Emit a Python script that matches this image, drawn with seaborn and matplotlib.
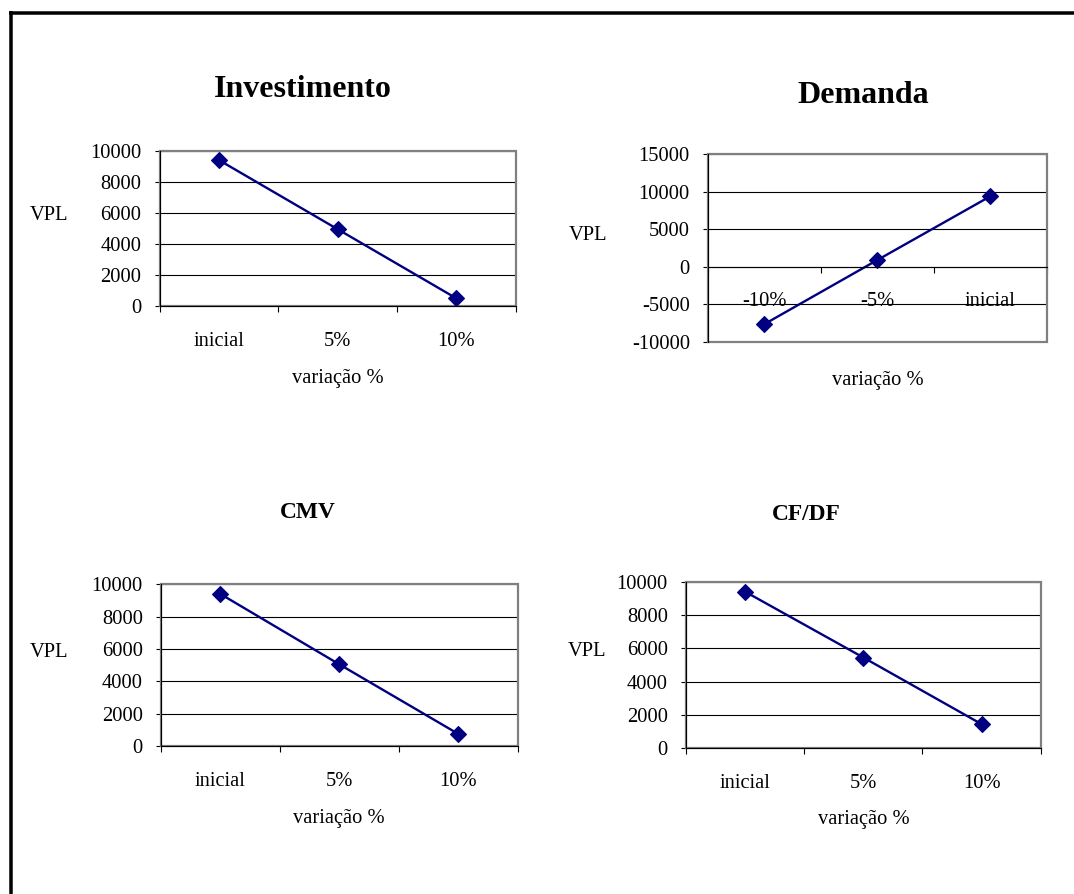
import matplotlib
matplotlib.use("Agg")
import matplotlib.pyplot as plt
import seaborn as sns
import pandas as pd
from matplotlib.lines import Line2D
from matplotlib.patches import Rectangle
from matplotlib.ticker import FixedLocator, FixedFormatter, NullFormatter

# VPL sensitivity to each input variable
inv_cats = ["inicial", "5%", "10%"]
inv_vpl = [9400, 4950, 500]

dem_cats = ["-10%", "-5%", "inicial"]
dem_vpl = [-7650, 900, 9400]

cmv_cats = ["inicial", "5%", "10%"]
cmv_vpl = [9400, 5050, 750]

cfdf_cats = ["inicial", "5%", "10%"]
cfdf_vpl = [9400, 5450, 1450]

titles = ["Investimento", "Demanda", "CMV", "CF/DF"]
y_label = "VPL"
x_label = "variação %"

sns.set_style("ticks")
plt.rcParams["font.family"] = ["Liberation Serif", "DejaVu Serif"]
plt.rcParams["axes.unicode_minus"] = False
for key in ["text.color", "axes.labelcolor", "xtick.color", "ytick.color",
            "xtick.labelcolor", "ytick.labelcolor"]:
    plt.rcParams[key] = "black"

W, H = 1074, 894
fig = plt.figure(figsize=(W / 100, H / 100), dpi=100)
PT = 72 / 100  # points per pixel

LINE_COLOR = "#000080"
FRAME_GRAY = "#808080"
FS = 14.8


def fx(x):
    return x / W


def fy(y):
    return 1 - y / H


panels = [
    dict(box=(159.5, 150.7, 515.5, 306.0), cats=inv_cats, vals=inv_vpl,
         ylim=(0, 10000), step=2000, title=titles[0], tpos=(303, 97.3), tsize=23,
         vpl=(49, 220), xl=383, zero_axis=False),
    dict(box=(708.0, 154.3, 1046.8, 341.7), cats=dem_cats, vals=dem_vpl,
         ylim=(-10000, 15000), step=5000, title=titles[1], tpos=(863.6, 103.3), tsize=23,
         vpl=(588.5, 240), xl=385, zero_axis=True),
    dict(box=(161.0, 584.3, 517.6, 746.0), cats=cmv_cats, vals=cmv_vpl,
         ylim=(0, 10000), step=2000, title=titles[2], tpos=(307.7, 518.3), tsize=16.8,
         vpl=(49, 656.7), xl=823, zero_axis=False),
    dict(box=(686.0, 581.7, 1040.7, 748.3), cats=cfdf_cats, vals=cfdf_vpl,
         ylim=(0, 10000), step=2000, title=titles[3], tpos=(805.8, 520), tsize=16.8,
         vpl=(587.5, 655.7), xl=824, zero_axis=False),
]

for p in panels:
    left, top, right, bottom = p["box"]
    ax = fig.add_axes([fx(left), fy(bottom), (right - left) / W, (bottom - top) / H])
    df = pd.DataFrame({"variacao": p["cats"], "vpl": p["vals"]})
    sns.pointplot(data=df, x="variacao", y="vpl", order=p["cats"], ax=ax,
                  color=LINE_COLOR, markers="D", errorbar=None,
                  markersize=8, linewidth=1.7, markeredgewidth=0.8)

    n = len(p["cats"])
    ax.set_xlim(-0.5, n - 0.5)
    y0, y1 = p["ylim"]
    ax.set_ylim(y0, y1)
    ax.set_yticks(list(range(y0, y1 + 1, p["step"])))
    ax.yaxis.grid(True, color="black", linewidth=0.8)
    ax.xaxis.grid(False)
    ax.set_axisbelow(True)

    # category separators as tick marks, labels centred between them
    ax.xaxis.set_major_locator(FixedLocator([i - 0.5 for i in range(n + 1)]))
    ax.xaxis.set_major_formatter(NullFormatter())
    ax.xaxis.set_minor_locator(FixedLocator(list(range(n))))
    ax.xaxis.set_minor_formatter(FixedFormatter(p["cats"]))
    ax.tick_params(axis="x", which="major", direction="out", length=6 * PT,
                   width=0.8, color="black")
    ax.tick_params(axis="x", which="minor", length=0, pad=18.5, labelsize=FS,
                   labelcolor="black")
    ax.tick_params(axis="y", direction="out", length=5 * PT, width=0.8,
                   pad=9.4, labelsize=FS, color="black", labelcolor="black")

    for s in ["top", "right"]:
        ax.spines[s].set_visible(False)
    for s in ["left", "bottom"]:
        ax.spines[s].set_color("black")
        ax.spines[s].set_linewidth(0.8)
    if p["zero_axis"]:
        ax.spines["bottom"].set_position(("data", 0))

    # grey plot-area frame
    ax.add_patch(Rectangle((0, 0), 1, 1, transform=ax.transAxes, fill=False,
                           edgecolor=FRAME_GRAY, linewidth=1.6, clip_on=False,
                           zorder=1.8))

    hpx = bottom - top
    wpx = right - left
    ax.set_xlabel(x_label, fontsize=FS, color="black")
    ax.xaxis.label.set_va("baseline")
    ax.xaxis.set_label_coords(0.5, (bottom - p["xl"]) / hpx)

    ax.set_ylabel(y_label, fontsize=FS, rotation=0, color="black")
    ax.yaxis.label.set_ha("center")
    ax.yaxis.label.set_va("baseline")
    ax.yaxis.set_label_coords((p["vpl"][0] - left) / wpx, (bottom - p["vpl"][1]) / hpx)

    fig.text(fx(p["tpos"][0]), fy(p["tpos"][1]), p["title"], fontsize=p["tsize"],
             fontweight="bold", ha="center", va="baseline", color="black")

# page frame along the top and left edges
fig.add_artist(Line2D([fx(10.5), fx(10.5)], [fy(11), 0], color="black",
                      linewidth=3.5 * PT, solid_capstyle="butt"))
fig.add_artist(Line2D([fx(9), 1], [fy(13), fy(13)], color="black",
                      linewidth=3.5 * PT, solid_capstyle="butt"))

fig.savefig("out.png", dpi=100)
